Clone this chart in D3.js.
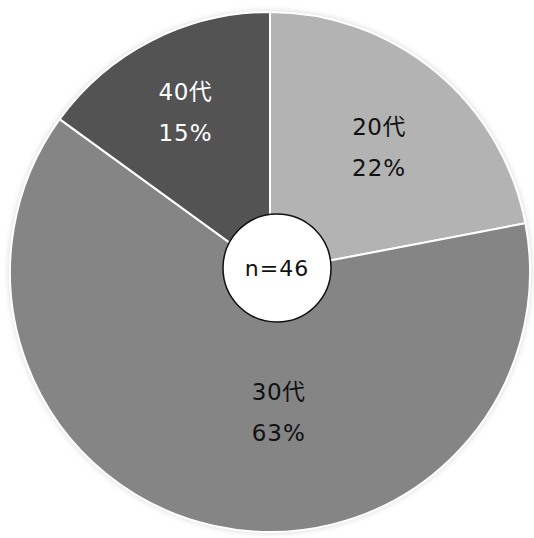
<!DOCTYPE html>
<html>
<head>
<meta charset="utf-8">
<script src="https://cdn.jsdelivr.net/npm/d3@7"></script>
<style>
html,body{margin:0;padding:0;background:#fff;}
svg{display:block;}
</style>
</head>
<body>
<svg id="chart" width="534" height="538"></svg>
<script>
// ---- data ----
const categories = ["20代", "30代", "40代"];
const values = [22, 63, 15];
const sliceColors = ["#b3b3b3", "#858585", "#535353"];
const labelColors = ["#111111", "#111111", "#ffffff"];
const sampleLabel = "n=46";

// ---- layout ----
const W = 534, H = 538;
const cx = 270, cy = 272, R = 260;
const svg = d3.select("#chart");

const defs = svg.append("defs");
const f = defs.append("filter").attr("id", "glow").attr("x", "-10%").attr("y", "-10%").attr("width", "120%").attr("height", "120%");
f.append("feGaussianBlur").attr("stdDeviation", 2.5);

const data = categories.map((c, i) => ({cat: c, value: values[i], color: sliceColors[i], text: labelColors[i]}));

const pie = d3.pie().value(d => d.value).sort(null);
const arcs = pie(data);
const arc = d3.arc().innerRadius(0).outerRadius(R);

const g = svg.append("g").attr("transform", `translate(${cx},${cy})`);

// soft outer shadow
g.append("circle").attr("r", R + 2).attr("fill", "#e2e2e2").attr("filter", "url(#glow)");

g.selectAll("path.slice").data(arcs).join("path")
  .attr("class", "slice")
  .attr("d", arc)
  .attr("fill", d => d.data.color)
  .attr("stroke", "#ffffff")
  .attr("stroke-width", 2)
  .attr("stroke-linejoin", "round");

// labels
const labelArc = d3.arc().innerRadius(R * 0.64).outerRadius(R * 0.64);
const nudge = {"20代": [3, -1], "30代": [45, -26], "40代": [-9, -16]};
const lab = g.selectAll("g.lab").data(arcs).join("g")
  .attr("class", "lab")
  .attr("transform", d => {
    const c = labelArc.centroid(d);
    const n = nudge[d.data.cat] || [0, 0];
    return `translate(${c[0] + n[0]},${c[1] + n[1]})`;
  });
lab.append("text")
  .attr("text-anchor", "middle")
  .attr("y", -8)
  .attr("fill", d => d.data.text)
  .style("font-family", "'DejaVu Sans','Noto Sans CJK JP',sans-serif")
  .style("font-size", "23px")
  .style("letter-spacing", "0.5px")
  .text(d => d.data.cat);
lab.append("text")
  .attr("text-anchor", "middle")
  .attr("y", 33)
  .attr("fill", d => d.data.text)
  .style("font-family", "'DejaVu Sans','Noto Sans CJK JP',sans-serif")
  .style("font-size", "23px")
  .style("letter-spacing", "1px")
  .text(d => d3.format(".0f")(d.data.value) + "%");

// center badge
const badge = svg.append("g").attr("transform", `translate(${cx + 7},${cy - 4})`);
badge.append("circle").attr("r", 54).attr("fill", "#ffffff").attr("stroke", "#111111").attr("stroke-width", 1.5);
badge.append("text")
  .attr("text-anchor", "middle")
  .attr("y", 8)
  .attr("fill", "#111111")
  .style("font-family", "'DejaVu Sans','Noto Sans CJK JP',sans-serif")
  .style("font-size", "22px")
  .style("letter-spacing", "1px")
  .text(sampleLabel);
</script>
</body>
</html>
